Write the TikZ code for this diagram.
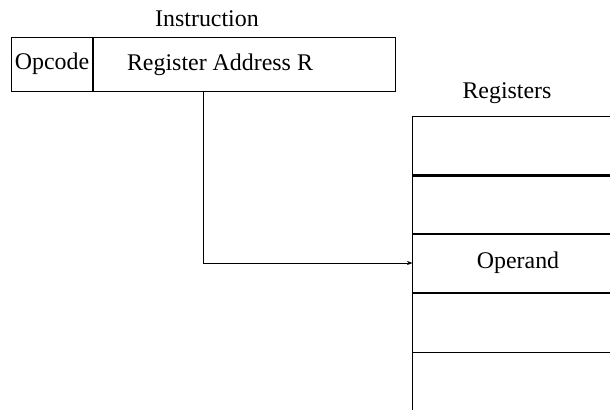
\documentclass[tikz,border=0pt]{standalone}
\usepackage{fontspec}
\setmainfont{Liberation Serif}
\usetikzlibrary{arrows.meta}

\begin{document}
\begin{tikzpicture}[x=0.025cm, y=-0.025cm, line width=0.7pt,
    every node/.style={font=\fontsize{17}{20}\selectfont, inner sep=0pt},
    field/.style={draw, minimum height=1.35cm},
    reg/.style={draw, minimum width=5.25cm, minimum height=1.475cm}]
    \clip (0,0) rectangle (610,409);

    % instruction word
    \node(instr) at (207,19) {Instruction};
    \node[field, minimum width=2cm] (opc) at (52,64) {Opcode};
    \node[field, minimum width=7.55cm, anchor=west] (addr) at (opc.east) {};
    \node(addrtxt) at (220,65) {Register Address R};

    % register file
    \node(regs) at (507,93) {Registers};
    \node[reg] (r1) at (518,145.5) {};
    \node[reg] (r2) at (518,204.5) {};
    \node[reg] (r3) at (518,263) {Operand};
    \node[reg] (r4) at (518,322.5) {};
    \node[reg] (r5) at (518,382) {};
    \draw[line width=1.5pt] (r1.south west) -- (r1.south east)
                            (r3.south west) -- (r3.south east);

    \coordinate(tap) at (203,91);
    \draw[-{Stealth[length=4pt,width=3pt]}] (tap) |- (r3.west);
  \end{tikzpicture}
\end{document}
